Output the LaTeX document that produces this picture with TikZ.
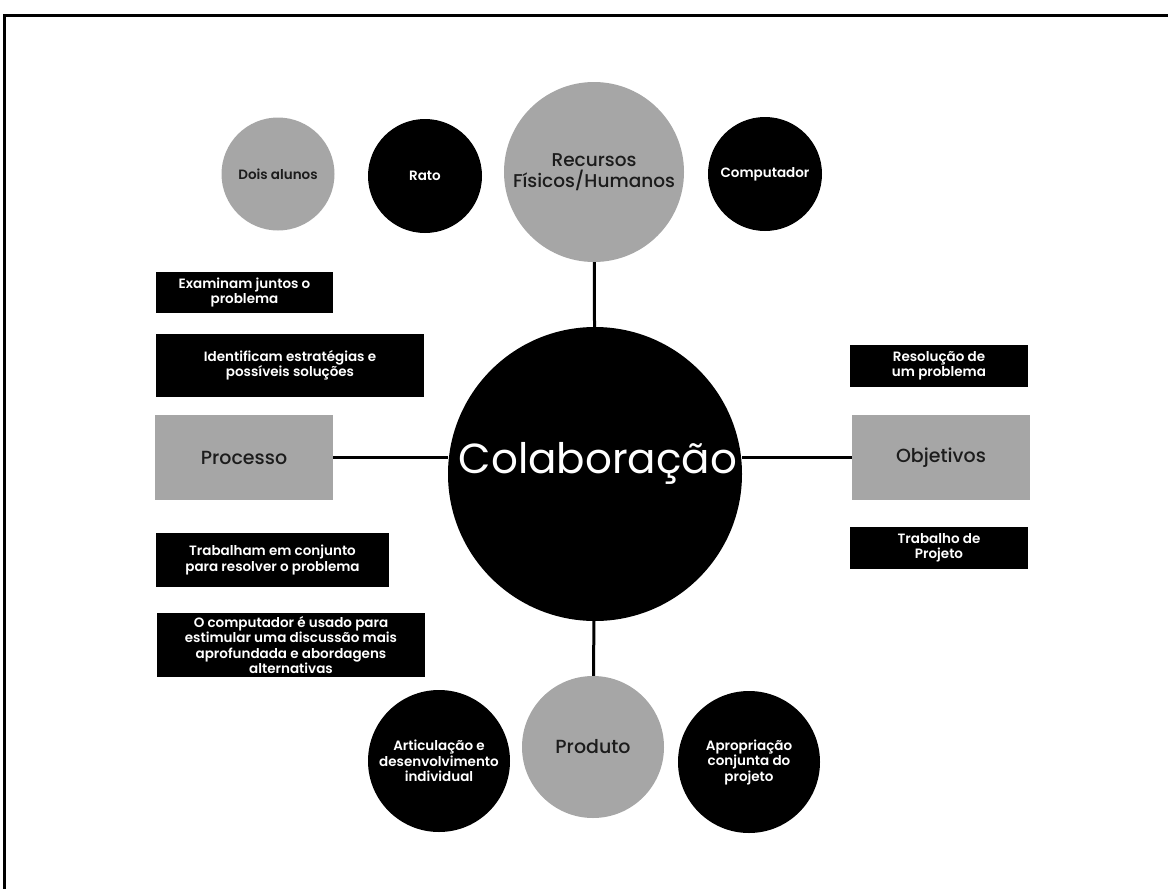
\documentclass[tikz,border=0pt]{standalone}
\usepackage{fontspec}
\setmainfont{Poppins}
\newfontfamily\labelfont{Poppins SemiBold}
\newfontfamily\headfont{Poppins Medium}
\definecolor{softgray}{HTML}{A6A6A6}
\definecolor{inkdark}{HTML}{1C1C1C}

\begin{document}
\begin{tikzpicture}[x=1pt,y=-1pt,
    blackdot/.style={circle,fill=black,text=white,inner sep=0pt,
                     minimum size=#1,align=center,
                     font=\labelfont\fontsize{13.5}{15.5}\selectfont},
    graydot/.style={circle,fill=softgray,text=inkdark,inner sep=0pt,
                    minimum size=#1,align=center},
    blackbox/.style={rectangle,fill=black,text=white,inner sep=0pt,
                     align=center,font=\labelfont\fontsize{13.5}{15.5}\selectfont},
    graybox/.style={rectangle,fill=softgray,text=inkdark,inner sep=0pt,
                    minimum width=178,minimum height=85,
                    font=\headfont\fontsize{19}{22}\selectfont},
    link/.style={line width=3pt}]

\useasboundingbox (0,0) rectangle (1168,889);
\draw[line width=3pt] (4,900) -- (4,15) -- (1180,15);

% centro
\node[blackdot=294] (colab) at (595,474) {};
\node[text=white,inner sep=0pt,font=\fontsize{42}{48}\selectfont] (colabtxt) at (598,463) {Colaboração};

% recursos
\node[graydot=180,font=\headfont\fontsize{18.5}{21}\selectfont] (rec) at (594,172) {Recursos\\Físicos/Humanos};
\node[graydot=113,font=\labelfont\fontsize{13.5}{15.5}\selectfont] (alunos) at (278,174) {Dois alunos};
\node[blackdot=114] (rato) at (425,176) {Rato};
\node[blackdot=114] (comp) at (765,174) {Computador};

% processo
\node[graybox] (proc) at (244,457.5) {Processo};
\node[blackbox,minimum width=177,minimum height=41] (exam) at (244.5,292.5) {Examinam juntos o\\problema};
\node[blackbox,minimum width=268,minimum height=63] (ident) at (290,365.5) {Identificam estratégias e\\possíveis soluções};
\node[blackbox,minimum width=233,minimum height=54] (trab) at (272.5,560) {Trabalham em conjunto\\para resolver o problema};
\node[blackbox,minimum width=268,minimum height=64] (disc) at (291,645) {O computador é usado para\\estimular uma discussão mais\\aprofundada e abordagens\\alternativas};

% objetivos
\node[graybox] (obj) at (941,457.5) {Objetivos};
\node[blackbox,minimum width=178,minimum height=42] (resol) at (939,366) {Resolução de\\um problema};
\node[blackbox,minimum width=178,minimum height=42] (proj) at (939,548) {Trabalho de\\Projeto};

% produto
\node[graydot=142,font=\headfont\fontsize{19}{22}\selectfont] (prod) at (593,747) {Produto};
\node[blackdot=142] (artic) at (439,761) {Articulação e\\desenvolvimento\\individual};
\node[blackdot=142] (aprop) at (749,762) {Apropriação\\conjunta do\\projeto};

\draw[link] (rec) -- (colab);
\draw[link] (colab) -- (prod);
\draw[link] (proc.east) -- (proc.east -| colab.west);
\draw[link] (obj.west) -- (obj.west -| colab.east);

\end{tikzpicture}
\end{document}
